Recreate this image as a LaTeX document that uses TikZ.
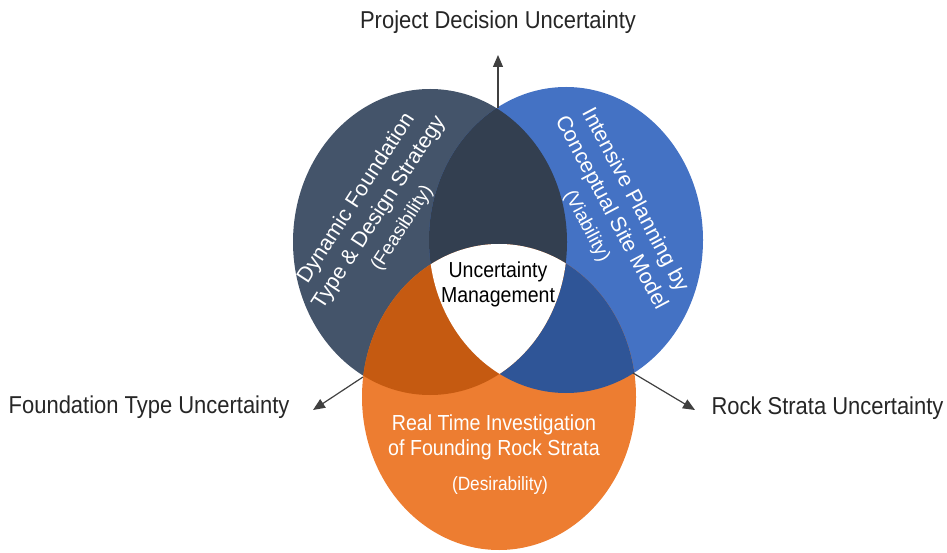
\documentclass[tikz,border=0pt]{standalone}
\usepackage{fontspec}
\setmainfont{Liberation Sans}
\newfontfamily\narrowfont[FakeStretch=0.9]{Liberation Sans}
\usetikzlibrary{arrows.meta}

\definecolor{slate}{HTML}{44546A}
\definecolor{slatedark}{HTML}{333F50}
\definecolor{skyblue}{HTML}{4472C4}
\definecolor{skydark}{HTML}{2F5597}
\definecolor{amber}{HTML}{ED7D31}
\definecolor{amberdark}{HTML}{C55A11}
\definecolor{arrowgray}{HTML}{404040}

\begin{document}
\begin{tikzpicture}[x=1pt,y=1pt,
	venn/.style={x radius=137,y radius=153},
	pointer/.style={draw=arrowgray,line width=1.2pt,-{Triangle[length=12pt,width=10pt]}},
	outer/.style={text=black!85,font=\narrowfont\fontsize{24.4}{28}\selectfont},
	inner/.style={text=white,align=center}]
	\useasboundingbox (0,0) rectangle (947,552);
	\coordinate (L) at (430,310);
	\coordinate (R) at (566,312);
	\coordinate (B) at (499,155);
	% the three sets
	\fill[slate] (L) ellipse [venn];
	\fill[skyblue] (R) ellipse [venn];
	\fill[amber] (B) ellipse [venn];
	\begin{scope}
		\clip (R) ellipse [venn];
		\fill[skydark] (B) ellipse [venn];
	\end{scope}
	\begin{scope}
		\clip (L) ellipse [venn];
		\fill[slatedark] (R) ellipse [venn];
		\fill[amberdark] (B) ellipse [venn];
		\clip (R) ellipse [venn];
		\fill[white] (B) ellipse [venn];
	\end{scope}
	% texts inside
	\node[inner,rotate=57,font=\fontsize{21.5}{27}\selectfont] (dfd) at (379,339)
		{Dynamic Foundation\\Type \& Design Strategy\\{\fontsize{19}{27}\selectfont (Feasibility)}};
	\node[inner,rotate=-62,font=\fontsize{21.5}{27}\selectfont] (ipl) at (611,339)
		{Intensive Planning by\\Conceptual Site Model\\{\fontsize{19}{27}\selectfont (Viability)}};
	\node[inner,font=\narrowfont\fontsize{21.8}{25}\selectfont] (rti) at (494,115)
		{Real Time Investigation\\of Founding Rock Strata};
	\node[inner,font=\narrowfont\fontsize{19.2}{22}\selectfont] (des) at (500,66) {(Desirability)};
	\node[align=center,font=\narrowfont\fontsize{21.7}{25}\selectfont] (um) at (498,268)
		{Uncertainty\\Management};
	% uncertainties
	\node[outer] (pdu) at (498,530) {Project Decision Uncertainty};
	\node[outer,anchor=east] (ftu) at (293,145) {Foundation Type Uncertainty};
	\node[outer,anchor=west] (rsu) at (708,144) {Rock Strata Uncertainty};
	\coordinate (top) at (498,444);
	\coordinate (left) at (363,175);
	\coordinate (right) at (633,179);
	\coordinate (pdutip) at (498,497);
	\coordinate (ftutip) at (313,142);
	\coordinate (rsutip) at (695,142);
	\draw[pointer] (top) -- (pdutip);
	\draw[pointer] (left) -- (ftutip);
	\draw[pointer] (right) -- (rsutip);
\end{tikzpicture}
\end{document}
